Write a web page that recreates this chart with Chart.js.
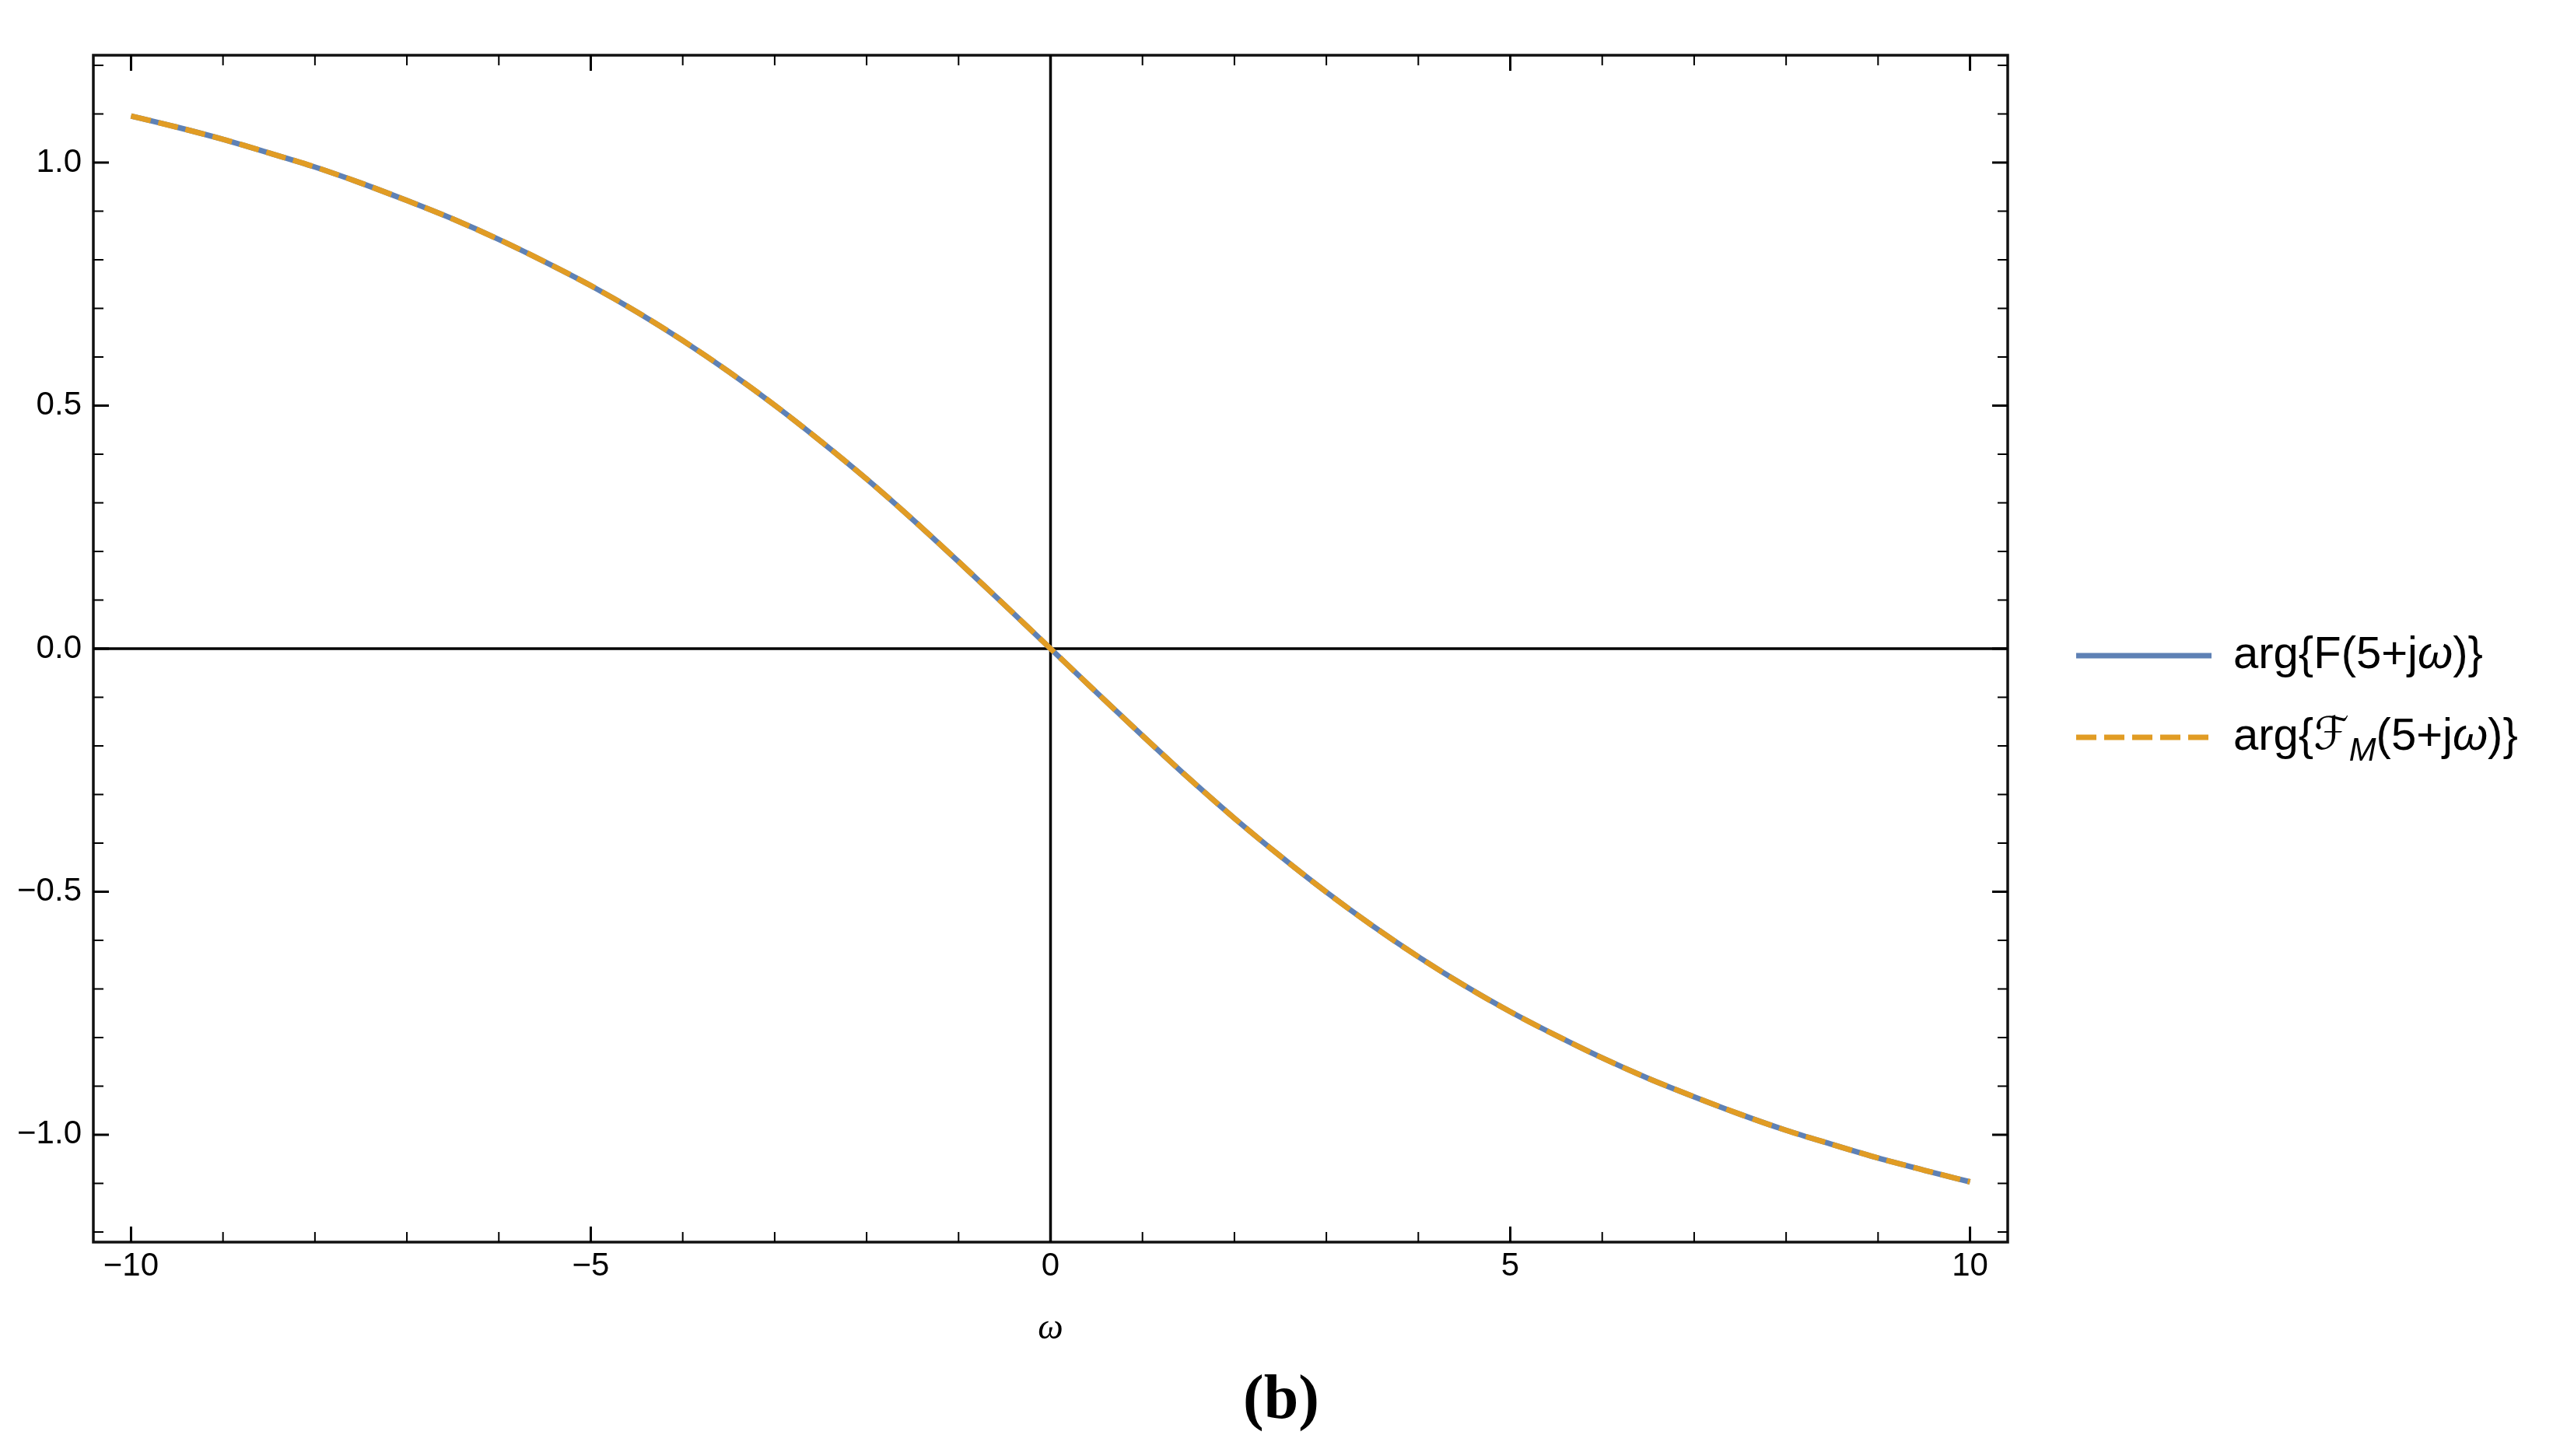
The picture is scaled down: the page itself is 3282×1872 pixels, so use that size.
<!DOCTYPE html>
<html>
<head>
<meta charset="utf-8">
<script src="https://cdn.jsdelivr.net/npm/chart.js@4.4.1/dist/chart.umd.min.js"></script>
<style>
html,body{margin:0;padding:0;background:#fff;}
canvas{display:block;}
</style>
</head>
<body>
<canvas id="c" width="3282" height="1872" style="width:3282px;height:1872px"></canvas>
<script>
// ---- data ----
const omega = [-10,-9.5,-9,-8.5,-8,-7.5,-7,-6.5,-6,-5.5,-5,-4.5,-4,-3.5,-3,-2.5,-2,-1.5,-1,-0.5,0,
               0.5,1,1.5,2,2.5,3,3.5,4,4.5,5,5.5,6,6.5,7,7.5,8,8.5,9,9.5,10];
const argF = [1.096,1.073,1.048,1.020,0.991,0.958,0.922,0.884,0.842,0.796,0.747,0.693,0.634,0.570,0.501,0.427,0.349,0.266,0.179,0.090,0.000,
              -0.090,-0.179,-0.266,-0.349,-0.427,-0.501,-0.570,-0.634,-0.693,-0.747,-0.796,-0.842,-0.884,-0.922,-0.958,-0.991,-1.020,-1.048,-1.073,-1.097];
const argFM = [1.096,1.073,1.048,1.020,0.991,0.958,0.922,0.884,0.842,0.796,0.747,0.693,0.634,0.570,0.501,0.427,0.349,0.266,0.179,0.090,0.000,
               -0.090,-0.179,-0.266,-0.349,-0.427,-0.501,-0.570,-0.634,-0.693,-0.747,-0.796,-0.842,-0.884,-0.922,-0.958,-0.991,-1.020,-1.048,-1.073,-1.097];
const seriesLabels = ['arg{F(5+jω)}', 'arg{ℱM(5+jω)}'];

const xMajorTicks = [-10,-5,0,5,10];
const xTickLabels = ['\u221210','\u22125','0','5','10'];
const xMinorTicks = [-9,-8,-7,-6,-4,-3,-2,-1,1,2,3,4,6,7,8,9];
const yMajorTicks = [-1.0,-0.5,0.0,0.5,1.0];
const yTickLabels = ['\u22121.0','\u22120.5','0.0','0.5','1.0'];
const yMinorTicks = [-1.2,-1.1,-0.9,-0.8,-0.7,-0.6,-0.4,-0.3,-0.2,-0.1,0.1,0.2,0.3,0.4,0.6,0.7,0.8,0.9,1.1,1.2];
const xAxisTitle = 'ω';
const caption = '(b)';

// legend label pieces (for the italic ω and the subscript M)
const legendParts = [
  [{t:'arg{F(5+j'},{t:'ω',it:true},{t:')}'}],
  [{t:'arg{'},{t:'ℱ',family:'"DejaVu Serif","DejaVu Sans"'},{t:'M',it:true,sub:true},{t:'(5+j'},{t:'ω',it:true},{t:')}'}]
];

const BLUE = '#5E81B5';
const ORANGE = '#E19C24';
const tickFont = {family:'"Liberation Sans", Arial, sans-serif', size:42};

const toPts = (xs, ys) => xs.map((x,i)=>({x:x, y:ys[i]}));

// zero axes under the curves
const zeroAxes = {
  id:'zeroAxes',
  beforeDatasetsDraw(chart){
    const {ctx, chartArea:ca, scales:{x, y}} = chart;
    ctx.save();
    ctx.strokeStyle = '#000';
    ctx.lineWidth = 3.5;
    const y0 = y.getPixelForValue(0), x0 = x.getPixelForValue(0);
    ctx.beginPath();
    ctx.moveTo(ca.left, y0); ctx.lineTo(ca.right, y0);
    ctx.moveTo(x0, ca.top); ctx.lineTo(x0, ca.bottom);
    ctx.stroke();
    ctx.restore();
  }
};

// frame with inward ticks on all four sides
const frameTicks = {
  id:'frameTicks',
  afterDatasetsDraw(chart){
    const {ctx, chartArea:ca, scales:{x, y}} = chart;
    ctx.save();
    ctx.strokeStyle = '#111';
    ctx.lineWidth = 3.5;
    ctx.strokeRect(ca.left, ca.top, ca.right-ca.left, ca.bottom-ca.top);
    const draw = (vals, len, w) => {
      ctx.lineWidth = w;
      ctx.beginPath();
      vals.forEach(v => {
        const px = x.getPixelForValue(v);
        ctx.moveTo(px, ca.bottom); ctx.lineTo(px, ca.bottom - len);
        ctx.moveTo(px, ca.top); ctx.lineTo(px, ca.top + len);
      });
      ctx.stroke();
    };
    const drawY = (vals, len, w) => {
      ctx.lineWidth = w;
      ctx.beginPath();
      vals.forEach(v => {
        const py = y.getPixelForValue(v);
        ctx.moveTo(ca.left, py); ctx.lineTo(ca.left + len, py);
        ctx.moveTo(ca.right, py); ctx.lineTo(ca.right - len, py);
      });
      ctx.stroke();
    };
    ctx.strokeStyle = '#000';
    draw(xMajorTicks, 20, 3);
    draw(xMinorTicks, 13, 2);
    drawY(yMajorTicks, 20, 3);
    drawY(yMinorTicks, 13, 2);
    ctx.restore();
  }
};

// legend drawn to the right of the plot
const customLegend = {
  id:'customLegend',
  afterDraw(chart){
    const {ctx, chartArea:ca} = chart;
    const midY = (ca.top + ca.bottom)/2;
    const fontSize = 58;
    const family = '"Liberation Sans", Arial, sans-serif';
    chart.data.datasets.forEach((ds, i) => {
      const yy = midY + 9 + i*105;
      ctx.save();
      ctx.strokeStyle = ds.borderColor;
      ctx.lineWidth = ds.borderWidth;
      ctx.lineCap = 'butt';
      ctx.setLineDash(ds.borderDash || []);
      ctx.beginPath();
      ctx.moveTo(ca.right + 88, yy);
      ctx.lineTo(ca.right + 262, yy);
      ctx.stroke();
      ctx.setLineDash([]);
      ctx.fillStyle = '#000';
      ctx.textBaseline = 'middle';
      ctx.textAlign = 'left';
      let xx = ca.right + 290;
      legendParts[i].forEach(p => {
        const size = p.sub ? fontSize*0.72 : fontSize;
        ctx.font = (p.it ? 'italic ' : '') + size + 'px ' + (p.family || family);
        ctx.fillText(p.t, xx, yy + (p.sub ? size*0.45 : 0));
        xx += ctx.measureText(p.t).width;
      });
      ctx.restore();
    });
  }
};

new Chart(document.getElementById('c'), {
  type:'line',
  data:{
    datasets:[
      {label:seriesLabels[0], data:toPts(omega, argF), borderColor:BLUE, borderWidth:7,
       pointRadius:0, cubicInterpolationMode:'monotone', fill:false, order:1, borderCapStyle:'butt'},
      {label:seriesLabels[1], data:toPts(omega, argFM), borderColor:ORANGE, borderWidth:7, borderDash:[26,10],
       pointRadius:0, cubicInterpolationMode:'monotone', fill:false, order:0, borderCapStyle:'butt'}
    ]
  },
  options:{
    responsive:false,
    animation:false,
    devicePixelRatio:1,
    layout:{padding:{left:12, top:71, right:0, bottom:18}},
    plugins:{
      legend:{display:false},
      tooltip:{enabled:false},
      title:{display:true, position:'bottom', text:caption, color:'#000',
             font:{family:'"Liberation Serif", "Times New Roman", serif', size:80, weight:'bold', lineHeight:1.2},
             padding:{top:17, bottom:4}}
    },
    scales:{
      x:{
        type:'linear', position:'bottom', min:-10.41, max:10.41,
        grid:{display:false, drawTicks:false}, border:{display:false},
        ticks:{color:'#000', font:tickFont, padding:6, maxRotation:0, autoSkip:false,
               callback:(v,i)=>xTickLabels[i]},
        afterBuildTicks:(s)=>{ s.ticks = xMajorTicks.map(v=>({value:v})); },
        afterFit:(s)=>{ s.height = 140; },
        title:{display:true, text:xAxisTitle, color:'#000',
               font:{family:'"Liberation Serif", "Times New Roman", serif', style:'italic', size:46, lineHeight:1.2},
               padding:{top:0, bottom:0}}
      },
      y:{
        type:'linear', position:'left', min:-1.221, max:1.221,
        grid:{display:false, drawTicks:false}, border:{display:false},
        ticks:{color:'#000', font:tickFont, padding:15, autoSkip:false,
               callback:(v,i)=>yTickLabels[i]},
        afterBuildTicks:(s)=>{ s.ticks = yMajorTicks.map(v=>({value:v})); },
        afterFit:(s)=>{ s.width = 108; }
      },
      legendSpace:{
        type:'linear', position:'right', display:true,
        grid:{display:false, drawTicks:false}, border:{display:false},
        ticks:{display:false},
        afterFit:(s)=>{ s.width = 701; }
      }
    }
  },
  plugins:[zeroAxes, frameTicks, customLegend]
});
</script>
</body>
</html>
